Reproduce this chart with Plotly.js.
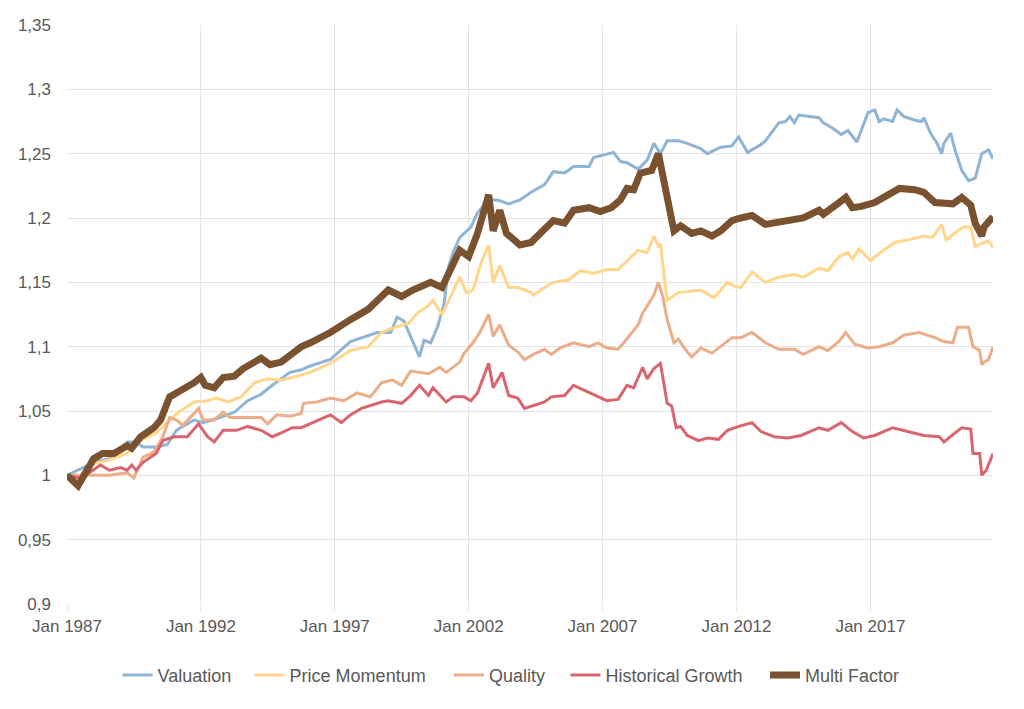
<!DOCTYPE html>
<html>
<head>
<meta charset="utf-8">
<script src="https://cdn.plot.ly/plotly-3.0.1.min.js"></script>
<style>html,body{margin:0;padding:0;background:#fff}#chart{width:1024px;height:709px}</style>
</head>
<body>
<div id="chart"></div>
<script>
// ---- Data ----
const seriesNames = ['Valuation', 'Price Momentum', 'Quality', 'Historical Growth', 'Multi Factor'];
const xTickStart = '1987-01-01';

const valuationDates = ['1987-01','1988-01','1988-08','1989-04','1989-08','1989-11','1990-05','1990-10','1991-02','1991-10','1992-02','1992-08','1993-04','1993-10','1994-04','1994-09','1995-05','1995-10','1996-02','1996-11','1997-08','1998-04','1998-08','1999-02','1999-05','1999-08','2000-03','2000-05','2000-08','2000-11','2001-02','2001-04','2001-06','2001-09','2002-02','2002-05','2002-10','2003-02','2003-07','2003-12','2004-05','2004-11','2005-03','2005-08','2005-12','2006-07','2006-09','2007-06','2007-09','2007-12','2008-05','2008-09','2008-12','2009-03','2009-06','2009-11','2010-03','2010-09','2010-12','2011-06','2011-11','2012-02','2012-06','2012-12','2013-02','2013-08','2013-11','2014-01','2014-03','2014-05','2014-11','2015-02','2015-04','2015-08','2015-12','2016-03','2016-07','2016-12','2017-03','2017-05','2017-07','2017-11','2018-01','2018-04','2018-09','2018-12','2019-01','2019-04','2019-07','2019-09','2019-10','2020-01','2020-03','2020-06','2020-09','2020-12','2021-03','2021-06','2021-08'];
const valuation = [1.000,1.010,1.013,1.026,1.026,1.022,1.022,1.024,1.035,1.043,1.041,1.044,1.049,1.058,1.063,1.070,1.080,1.082,1.085,1.090,1.104,1.109,1.111,1.111,1.123,1.120,1.092,1.105,1.103,1.115,1.134,1.162,1.173,1.185,1.193,1.204,1.214,1.214,1.211,1.214,1.220,1.226,1.236,1.235,1.240,1.240,1.247,1.251,1.244,1.243,1.238,1.245,1.258,1.250,1.260,1.260,1.258,1.254,1.250,1.255,1.256,1.263,1.251,1.257,1.260,1.274,1.275,1.279,1.274,1.280,1.279,1.278,1.274,1.270,1.265,1.268,1.259,1.282,1.284,1.275,1.277,1.275,1.284,1.279,1.276,1.275,1.278,1.266,1.258,1.250,1.258,1.266,1.253,1.237,1.229,1.231,1.250,1.253,1.246];

const momentumDates = ['1987-01','1987-07','1988-01','1988-08','1989-04','1989-10','1990-05','1990-11','1991-03','1991-10','1992-04','1992-08','1993-01','1993-07','1994-01','1994-07','1995-01','1995-06','1995-10','1996-02','1996-11','1997-08','1998-04','1998-10','1999-02','1999-10','2000-02','2000-07','2000-09','2001-01','2001-05','2001-09','2001-12','2002-03','2002-07','2002-10','2002-12','2003-03','2003-07','2003-11','2004-05','2004-06','2004-11','2005-03','2005-10','2006-03','2006-09','2007-03','2007-08','2007-12','2008-05','2008-09','2008-12','2009-02','2009-03','2009-05','2009-06','2009-11','2010-03','2010-09','2010-12','2011-03','2011-09','2011-12','2012-03','2012-08','2013-02','2013-08','2014-03','2014-07','2015-02','2015-06','2015-11','2016-03','2016-05','2016-08','2017-01','2017-07','2017-12','2018-06','2019-01','2019-05','2019-09','2019-11','2020-05','2020-07','2020-10','2020-12','2021-04','2021-06','2021-08'];
const priceMomentum = [1.000,0.998,1.009,1.012,1.017,1.027,1.033,1.043,1.049,1.057,1.058,1.060,1.057,1.061,1.072,1.075,1.074,1.076,1.078,1.080,1.087,1.097,1.100,1.111,1.114,1.118,1.126,1.132,1.136,1.125,1.139,1.154,1.142,1.144,1.167,1.179,1.150,1.163,1.146,1.146,1.142,1.140,1.146,1.150,1.152,1.159,1.157,1.160,1.160,1.167,1.175,1.173,1.186,1.178,1.180,1.150,1.136,1.142,1.143,1.144,1.141,1.138,1.150,1.147,1.146,1.158,1.150,1.154,1.156,1.154,1.161,1.159,1.170,1.173,1.168,1.176,1.167,1.175,1.181,1.183,1.186,1.185,1.195,1.183,1.191,1.193,1.193,1.178,1.181,1.182,1.177];

const qualityDates = ['1987-01','1988-01','1988-08','1989-04','1989-07','1989-11','1990-04','1990-08','1990-11','1991-02','1991-05','1991-10','1991-12','1992-02','1992-07','1992-11','1993-02','1993-10','1994-04','1994-07','1994-11','1995-05','1995-10','1995-11','1996-05','1996-11','1997-05','1997-11','1998-05','1998-10','1999-03','1999-07','1999-11','2000-07','2000-12','2001-03','2001-09','2001-11','2002-03','2002-06','2002-10','2002-12','2003-03','2003-07','2003-11','2004-02','2004-06','2004-11','2005-02','2005-06','2005-12','2006-07','2006-11','2007-03','2007-08','2007-11','2008-02','2008-05','2008-07','2008-12','2009-02','2009-04','2009-06','2009-09','2009-11','2010-02','2010-05','2010-09','2011-02','2011-06','2011-11','2012-03','2012-08','2013-02','2013-08','2014-03','2014-07','2015-02','2015-06','2015-11','2016-02','2016-06','2016-12','2017-05','2017-11','2018-04','2018-11','2019-06','2019-10','2020-02','2020-04','2020-09','2020-11','2021-02','2021-03','2021-04','2021-06','2021-08'];
const quality = [1.000,1.000,1.000,1.002,0.998,1.014,1.018,1.030,1.045,1.043,1.039,1.048,1.052,1.043,1.043,1.049,1.045,1.045,1.045,1.040,1.047,1.046,1.048,1.056,1.057,1.060,1.058,1.064,1.061,1.072,1.074,1.070,1.081,1.079,1.084,1.080,1.088,1.095,1.103,1.111,1.125,1.108,1.117,1.101,1.096,1.090,1.094,1.098,1.094,1.099,1.103,1.100,1.103,1.099,1.098,1.104,1.111,1.117,1.126,1.140,1.150,1.139,1.121,1.103,1.106,1.098,1.092,1.099,1.095,1.100,1.107,1.107,1.111,1.103,1.098,1.098,1.094,1.100,1.097,1.104,1.111,1.102,1.099,1.100,1.103,1.109,1.111,1.107,1.104,1.103,1.115,1.115,1.100,1.097,1.086,1.088,1.090,1.100];

const growthDates = ['1987-01','1987-07','1987-11','1988-04','1988-08','1989-01','1989-04','1989-06','1989-08','1989-11','1990-05','1990-08','1991-01','1991-07','1991-12','1992-04','1992-07','1992-11','1993-05','1993-10','1994-04','1994-09','1995-01','1995-06','1995-10','1996-11','1997-04','1997-08','1998-01','1998-10','1999-01','1999-07','1999-11','2000-03','2000-07','2000-09','2001-03','2001-06','2001-11','2002-02','2002-05','2002-08','2002-10','2002-12','2003-04','2003-07','2003-11','2004-02','2004-06','2004-11','2005-02','2005-08','2005-12','2006-05','2006-11','2007-03','2007-08','2007-12','2008-03','2008-07','2008-09','2008-12','2009-03','2009-06','2009-08','2009-10','2009-12','2010-03','2010-08','2010-12','2011-05','2011-09','2012-02','2012-08','2012-12','2013-06','2013-12','2014-06','2015-02','2015-06','2015-12','2016-05','2016-10','2017-03','2017-11','2018-06','2019-01','2019-08','2019-10','2020-03','2020-06','2020-10','2020-11','2021-02','2021-03','2021-05','2021-08'];
const historicalGrowth = [1.000,0.998,1.002,1.008,1.004,1.006,1.004,1.008,1.004,1.010,1.017,1.027,1.030,1.030,1.040,1.030,1.026,1.035,1.035,1.038,1.035,1.030,1.033,1.037,1.037,1.047,1.041,1.047,1.052,1.057,1.058,1.056,1.062,1.070,1.062,1.068,1.057,1.061,1.061,1.058,1.064,1.077,1.087,1.068,1.080,1.062,1.060,1.052,1.054,1.057,1.061,1.062,1.070,1.066,1.061,1.058,1.059,1.070,1.068,1.084,1.075,1.083,1.087,1.056,1.054,1.037,1.038,1.031,1.027,1.029,1.028,1.035,1.038,1.041,1.034,1.030,1.029,1.031,1.037,1.035,1.041,1.034,1.029,1.031,1.037,1.034,1.031,1.030,1.026,1.033,1.037,1.036,1.017,1.017,1.000,1.004,1.017];

const multiDates = ['1987-01','1987-06','1988-01','1988-05','1988-10','1989-04','1989-06','1989-10','1990-04','1990-07','1990-11','1991-02','1991-05','1991-10','1992-01','1992-03','1992-07','1992-11','1993-04','1993-08','1994-04','1994-08','1995-01','1995-06','1995-10','1996-02','1996-11','1997-08','1998-04','1999-01','1999-07','1999-12','2000-08','2001-01','2001-05','2001-09','2002-01','2002-05','2002-10','2002-12','2003-03','2003-06','2003-12','2004-05','2004-09','2005-03','2005-08','2005-12','2006-07','2006-12','2007-05','2007-09','2007-12','2008-03','2008-06','2008-11','2009-02','2009-04','2009-06','2009-07','2009-09','2009-12','2010-05','2010-09','2011-02','2011-06','2011-11','2012-03','2012-08','2013-02','2013-11','2014-07','2015-02','2015-04','2015-11','2016-02','2016-05','2016-09','2017-03','2017-07','2018-02','2018-09','2019-01','2019-06','2020-02','2020-06','2020-10','2020-12','2021-03','2021-04','2021-08'];
const multiFactor = [1.000,0.992,1.013,1.017,1.017,1.023,1.021,1.030,1.037,1.043,1.061,1.064,1.066,1.072,1.076,1.070,1.068,1.076,1.077,1.083,1.091,1.086,1.088,1.095,1.100,1.103,1.111,1.121,1.129,1.144,1.139,1.144,1.150,1.146,1.160,1.175,1.170,1.188,1.218,1.190,1.206,1.188,1.179,1.181,1.188,1.198,1.196,1.206,1.208,1.205,1.208,1.214,1.223,1.222,1.235,1.237,1.250,1.232,1.211,1.208,1.190,1.194,1.188,1.190,1.186,1.190,1.198,1.200,1.202,1.195,1.197,1.200,1.206,1.203,1.212,1.216,1.208,1.209,1.212,1.216,1.223,1.222,1.220,1.212,1.211,1.216,1.210,1.196,1.186,1.193,1.201];

const yTickLabelsFormat = '.2~f';

// ---- Chart ----
const colors = ['#8fb4d5', '#ffd68c', '#ebae88', '#d9656f', '#7a5230'];
const widths = [3, 3, 3, 3, 7];
const xs = [valuationDates, momentumDates, qualityDates, growthDates, multiDates];
const ys = [valuation, priceMomentum, quality, historicalGrowth, multiFactor];
const legendIds = ['legend', 'legend2', 'legend3', 'legend4', 'legend5'];
// left edges (paper fraction) of the individual legend entries
const legendLeft = [0.0546, 0.1972, 0.4125, 0.5383, 0.7538];

const traces = seriesNames.map((name, i) => ({
  type: 'scatter',
  mode: 'lines',
  name: name,
  legend: legendIds[i],
  x: xs[i],
  y: ys[i],
  line: { color: colors[i], width: widths[i], shape: 'linear' },
  hoverinfo: 'x+y+name'
}));

const font = { family: '"Liberation Sans", Arial, Helvetica, sans-serif', size: 17, color: '#595959' };

const layout = {
  width: 1024,
  height: 709,
  margin: { l: 67, r: 31, t: 25, b: 105, autoexpand: false },
  paper_bgcolor: '#ffffff',
  plot_bgcolor: '#ffffff',
  separators: ',.',
  font: font,
  showlegend: true,
  xaxis: {
    type: 'date',
    range: ['1987-01-01', '2021-08-01'],
    tick0: xTickStart,
    dtick: 'M60',
    tickformat: '%b %Y',
    tickangle: 0,
    showgrid: true,
    gridcolor: '#e3e3e3',
    gridwidth: 1,
    zeroline: false,
    showline: false,
    ticks: 'outside',
    ticklen: 6,
    tickcolor: '#e3e3e3',
    tickfont: font,
    ticklabelstandoff: 1
  },
  yaxis: {
    range: [0.9, 1.35],
    dtick: 0.05,
    tick0: 0.9,
    tickformat: yTickLabelsFormat,
    showgrid: true,
    gridcolor: '#e3e3e3',
    gridwidth: 1,
    zeroline: false,
    showline: false,
    ticks: '',
    tickfont: font,
    ticklabelstandoff: 15
  }
};

legendIds.forEach((id, i) => {
  layout[id] = {
    orientation: 'h',
    x: legendLeft[i],
    xanchor: 'left',
    y: -0.123,
    yanchor: 'middle',
    bgcolor: 'rgba(0,0,0,0)',
    font: { family: font.family, size: 18, color: '#595959' }
  };
});

Plotly.newPlot('chart', traces, layout, { displayModeBar: false, staticPlot: true });
</script>
</body>
</html>
